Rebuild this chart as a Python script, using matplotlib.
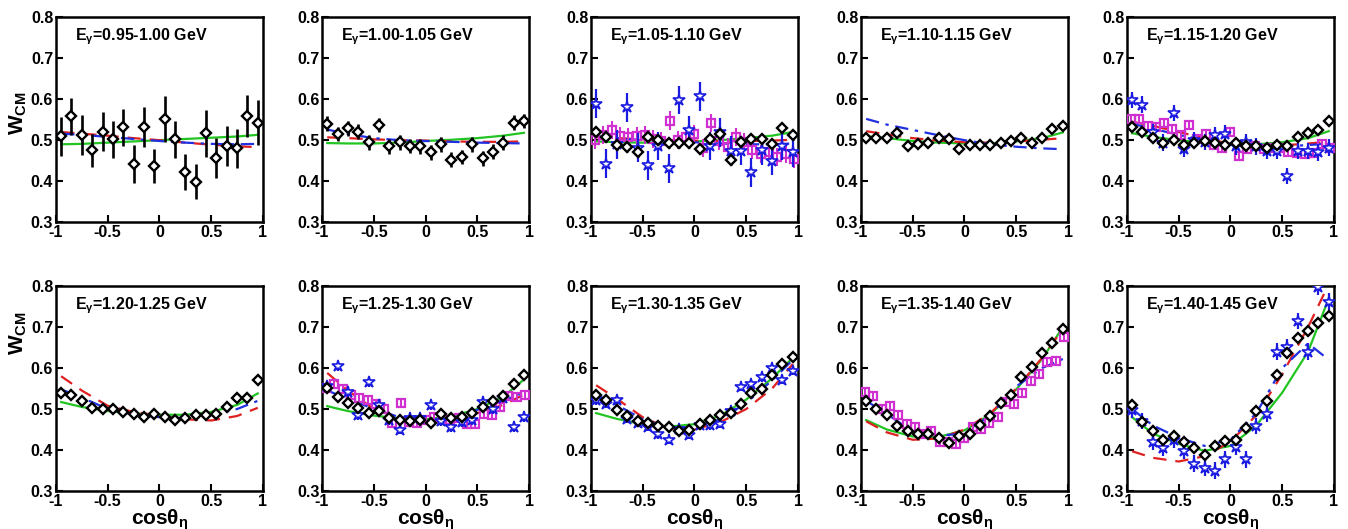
import matplotlib
matplotlib.use('Agg')
import matplotlib.pyplot as plt
import numpy as np

plt.rcParams['font.family'] = ['Liberation Sans', 'DejaVu Sans']
plt.rcParams['font.weight'] = 'bold'
plt.rcParams['axes.unicode_minus'] = False
plt.rcParams['mathtext.fontset'] = 'custom'
plt.rcParams['mathtext.rm'] = 'Liberation Sans'
plt.rcParams['mathtext.it'] = 'Liberation Sans:italic'
plt.rcParams['mathtext.bf'] = 'Liberation Sans:bold'

# energy bins (one panel each)
e_bins = ['0.95-1.00', '1.00-1.05', '1.05-1.10', '1.10-1.15', '1.15-1.20',
          '1.20-1.25', '1.25-1.30', '1.30-1.35', '1.35-1.40', '1.40-1.45']

# cos(theta) bins
x_black = [-0.95, -0.85, -0.75, -0.65, -0.55, -0.45, -0.35, -0.25, -0.15, -0.05,
           0.05, 0.15, 0.25, 0.35, 0.45, 0.55, 0.65, 0.75, 0.85, 0.95]
x_blue = x_black
x_mag = [-0.96, -0.88, -0.80, -0.72, -0.64, -0.56, -0.48, -0.40, -0.32, -0.24, -0.16, -0.08,
         0.00, 0.08, 0.16, 0.24, 0.32, 0.40, 0.48, 0.56, 0.64, 0.72, 0.80, 0.88, 0.96]
x_curve = [-0.95, -0.75, -0.5, -0.25, 0.0, 0.25, 0.5, 0.75, 0.95]

# black diamonds (this work)
black_y = [
    [0.509, 0.558, 0.513, 0.475, 0.521, 0.502, 0.531, 0.442, 0.532, 0.437,
     0.552, 0.502, 0.422, 0.399, 0.517, 0.456, 0.486, 0.480, 0.559, 0.543],
    [0.540, 0.515, 0.529, 0.521, 0.495, 0.537, 0.485, 0.495, 0.486, 0.485,
     0.470, 0.490, 0.452, 0.459, 0.490, 0.456, 0.472, 0.494, 0.543, 0.547],
    [0.521, 0.507, 0.489, 0.484, 0.472, 0.508, 0.500, 0.493, 0.492, 0.494,
     0.478, 0.502, 0.515, 0.451, 0.496, 0.504, 0.502, 0.490, 0.529, 0.513],
    [0.506, 0.506, 0.505, 0.517, 0.485, 0.490, 0.492, 0.506, 0.502, 0.478,
     0.489, 0.489, 0.488, 0.494, 0.497, 0.505, 0.494, 0.506, 0.527, 0.535],
    [0.531, 0.520, 0.506, 0.494, 0.500, 0.488, 0.493, 0.497, 0.494, 0.488,
     0.493, 0.486, 0.486, 0.480, 0.489, 0.486, 0.508, 0.517, 0.524, 0.547],
    [0.538, 0.534, 0.519, 0.503, 0.500, 0.500, 0.493, 0.487, 0.481, 0.487,
     0.481, 0.473, 0.477, 0.485, 0.485, 0.489, 0.505, 0.526, 0.527, 0.570],
    [0.552, 0.530, 0.515, 0.503, 0.491, 0.495, 0.477, 0.474, 0.471, 0.474,
     0.466, 0.487, 0.479, 0.481, 0.491, 0.504, 0.520, 0.531, 0.560, 0.584],
    [0.535, 0.523, 0.497, 0.482, 0.471, 0.466, 0.459, 0.456, 0.447, 0.448,
     0.463, 0.473, 0.485, 0.491, 0.512, 0.538, 0.550, 0.584, 0.609, 0.627],
    [0.520, 0.501, 0.485, 0.459, 0.447, 0.438, 0.438, 0.429, 0.418, 0.434,
     0.439, 0.460, 0.483, 0.515, 0.535, 0.577, 0.603, 0.637, 0.660, 0.694],
    [0.509, 0.469, 0.447, 0.424, 0.435, 0.419, 0.405, 0.389, 0.411, 0.423,
     0.424, 0.454, 0.495, 0.520, 0.584, 0.636, 0.674, 0.691, 0.709, 0.727],
]
black_err = [
    [0.048, 0.046, 0.048, 0.041, 0.047, 0.045, 0.046, 0.047, 0.048, 0.041,
     0.056, 0.045, 0.044, 0.042, 0.057, 0.049, 0.049, 0.048, 0.051, 0.055],
    0.018, 0.012, 0.006, 0.006, 0.006, 0.007, 0.006, 0.006, 0.007,
]

# blue stars (panels that have them)
blue_y = {
    2: [0.589, 0.443, 0.490, 0.580, 0.482, 0.439, 0.486, 0.431, 0.598, 0.525,
        0.607, 0.486, 0.519, 0.474, 0.474, 0.422, 0.475, 0.449, 0.486, 0.470],
    4: [0.598, 0.587, 0.519, 0.494, 0.567, 0.478, 0.500, 0.496, 0.512, 0.516,
        0.485, 0.496, 0.485, 0.474, 0.474, 0.412, 0.474, 0.474, 0.470, 0.482],
    6: [0.556, 0.605, 0.542, 0.485, 0.566, 0.509, 0.473, 0.450, 0.479, 0.479,
        0.509, 0.471, 0.456, 0.469, 0.474, 0.517, 0.501, 0.528, 0.456, 0.481],
    7: [0.521, 0.513, 0.521, 0.476, 0.465, 0.456, 0.438, 0.425, 0.451, 0.437,
        0.460, 0.460, 0.464, 0.495, 0.554, 0.562, 0.577, 0.599, 0.572, 0.593],
    9: [0.497, 0.471, 0.420, 0.406, 0.424, 0.398, 0.367, 0.356, 0.350, 0.377,
        0.407, 0.377, 0.459, 0.489, 0.640, 0.652, 0.715, 0.640, 0.798, 0.762],
}
blue_err = {2: 0.035, 4: 0.02, 6: 0.012, 7: 0.01, 9: 0.02}

# magenta squares
mag_y = {
    2: [0.500, 0.513, 0.525, 0.511, 0.507, 0.511, 0.513, 0.502, 0.498, 0.548, 0.500, 0.508,
        0.516, 0.482, 0.543, 0.498, 0.484, 0.508, 0.496, 0.475, 0.467, 0.470, 0.459, 0.467, 0.453],
    4: [0.551, 0.551, 0.535, 0.531, 0.541, 0.528, 0.512, 0.536, 0.502, 0.515, 0.488, 0.480,
        0.519, 0.462, 0.478, 0.486, 0.478, 0.480, 0.482, 0.472, 0.468, 0.466, 0.468, 0.490, 0.482],
    6: [0.552, 0.562, 0.548, 0.534, 0.526, 0.521, 0.513, 0.499, 0.466, 0.515, 0.469, 0.466,
        0.474, 0.481, 0.479, 0.474, 0.479, 0.463, 0.463, 0.489, 0.485, 0.505, 0.531, 0.530, 0.534],
    8: [0.542, 0.531, 0.501, 0.507, 0.486, 0.463, 0.456, 0.440, 0.447, 0.420, 0.420, 0.415,
        0.430, 0.456, 0.452, 0.466, 0.481, 0.517, 0.513, 0.538, 0.569, 0.586, 0.615, 0.617, 0.675],
}
mag_err = {2: 0.022, 4: 0.008, 6: 0.008, 8: 0.008}

# model curves
green_y = [
    [0.490, 0.491, 0.494, 0.497, 0.500, 0.503, 0.506, 0.509, 0.513],
    [0.493, 0.492, 0.492, 0.494, 0.498, 0.501, 0.505, 0.511, 0.518],
    [0.497, 0.495, 0.494, 0.495, 0.497, 0.500, 0.505, 0.511, 0.520],
    [0.510, 0.505, 0.498, 0.494, 0.492, 0.492, 0.497, 0.505, 0.519],
    [0.517, 0.508, 0.500, 0.494, 0.490, 0.490, 0.495, 0.505, 0.522],
    [0.517, 0.505, 0.495, 0.489, 0.486, 0.486, 0.493, 0.510, 0.538],
    [0.507, 0.495, 0.484, 0.477, 0.475, 0.482, 0.500, 0.530, 0.572],
    [0.490, 0.476, 0.463, 0.457, 0.463, 0.484, 0.523, 0.575, 0.625],
    [0.473, 0.450, 0.433, 0.432, 0.448, 0.487, 0.548, 0.622, 0.700],
    [0.480, 0.440, 0.415, 0.398, 0.410, 0.460, 0.540, 0.640, 0.770],
]
red_y = [
    [0.520, 0.516, 0.511, 0.505, 0.500, 0.494, 0.489, 0.485, 0.483],
    [0.507, 0.505, 0.502, 0.500, 0.499, 0.497, 0.496, 0.496, 0.497],
    [0.507, 0.505, 0.502, 0.500, 0.499, 0.498, 0.498, 0.499, 0.501],
    [0.522, 0.514, 0.505, 0.499, 0.495, 0.494, 0.497, 0.501, 0.505],
    [0.545, 0.535, 0.520, 0.505, 0.491, 0.485, 0.487, 0.492, 0.496],
    [0.580, 0.545, 0.508, 0.493, 0.484, 0.475, 0.472, 0.483, 0.503],
    [0.588, 0.545, 0.500, 0.478, 0.470, 0.475, 0.490, 0.510, 0.535],
    [0.558, 0.525, 0.480, 0.453, 0.450, 0.468, 0.500, 0.550, 0.610],
    [0.470, 0.443, 0.425, 0.428, 0.450, 0.490, 0.550, 0.625, 0.695],
    [0.397, 0.381, 0.372, 0.385, 0.420, 0.485, 0.585, 0.700, 0.805],
]
blue_curve_y = [
    [0.516, 0.513, 0.508, 0.503, 0.498, 0.494, 0.491, 0.490, 0.491],
    [0.526, 0.515, 0.505, 0.500, 0.498, 0.496, 0.494, 0.493, 0.492],
    [0.510, 0.505, 0.500, 0.497, 0.495, 0.492, 0.490, 0.490, 0.492],
    [0.552, 0.538, 0.525, 0.512, 0.500, 0.490, 0.484, 0.480, 0.478],
    [0.540, 0.528, 0.513, 0.500, 0.490, 0.485, 0.485, 0.488, 0.492],
    [0.548, 0.528, 0.500, 0.487, 0.480, 0.478, 0.485, 0.500, 0.520],
    [0.545, 0.525, 0.500, 0.480, 0.472, 0.478, 0.498, 0.520, 0.540],
    [0.535, 0.510, 0.475, 0.455, 0.455, 0.475, 0.515, 0.570, 0.620],
    [0.520, 0.488, 0.445, 0.435, 0.440, 0.485, 0.555, 0.600, 0.622],
    [0.500, 0.460, 0.430, 0.410, 0.425, 0.490, 0.600, 0.660, 0.620],
]

y_ticks = [0.3, 0.4, 0.5, 0.6, 0.7, 0.8]
x_ticks = [-1, -0.5, 0, 0.5, 1]
x_ticklabels = ['-1', '-0.5', '0', '0.5', '1']

fig = plt.figure(figsize=(13.48, 5.29), dpi=100)
lefts = [0.0415, 0.2389, 0.4384, 0.6387, 0.8360]
bottoms = [0.580, 0.0718]
w, h = 0.1536, 0.3875

for i in range(10):
    row, col = divmod(i, 5)
    ax = fig.add_axes([lefts[col], bottoms[row], w, h])

    ax.plot(x_curve, green_y[i], color='#22c422', lw=1.6, zorder=2)
    ax.plot(x_curve, red_y[i], color='#e02020', lw=1.6, dashes=(6, 4), zorder=2)
    ax.plot(x_curve, blue_curve_y[i], color='#2030e0', lw=1.6, dashes=(6, 3, 1.5, 3), zorder=2)

    if i in mag_y:
        ax.errorbar(x_mag, mag_y[i], yerr=mag_err[i], fmt='s', ms=6, mfc='none',
                    mec='#d030d0', mew=1.6, ecolor='#d030d0', elinewidth=1.5, capsize=0, zorder=3)
    if i in blue_y:
        ax.errorbar(x_blue, blue_y[i], yerr=blue_err[i], xerr=0.03, fmt='*', ms=9, mfc='white',
                    mec='#1a1ae0', mew=1.2, ecolor='#1a1ae0', elinewidth=1.6, capsize=0, zorder=4)
    ax.errorbar(x_black, black_y[i], yerr=black_err[i], xerr=0.025, fmt='D', ms=5, mfc='white',
                mec='black', mew=1.7, ecolor='black', elinewidth=1.9, capsize=0, zorder=5)

    ax.set_xlim(-1, 1)
    ax.set_ylim(0.3, 0.8)
    ax.set_xticks(x_ticks)
    ax.set_xticklabels(x_ticklabels)
    ax.set_yticks(y_ticks)
    ax.set_yticklabels(['%.1f' % t for t in y_ticks])
    ax.tick_params(direction='in', length=5, width=1.5, labelsize=11.5, pad=2)
    for s in ax.spines.values():
        s.set_linewidth(1.8)

    ax.text(0.09, 0.905, r'E$_{\mathrm{\gamma}}$=' + e_bins[i] + ' GeV', transform=ax.transAxes,
            fontsize=11.5, fontweight='bold', va='center', ha='left')

    if col == 0:
        ax.set_ylabel(r'W$_{\mathbf{CM}}$', fontsize=15, fontweight='bold')
        ax.yaxis.set_label_coords(-0.13, 0.53 if row == 0 else 0.77)
    if row == 1:
        ax.set_xlabel(r'cos$\mathbf{\theta}_{\mathrm{\eta}}$', fontsize=15, fontweight='bold', labelpad=-1)

fig.savefig('out.png', dpi=100)
